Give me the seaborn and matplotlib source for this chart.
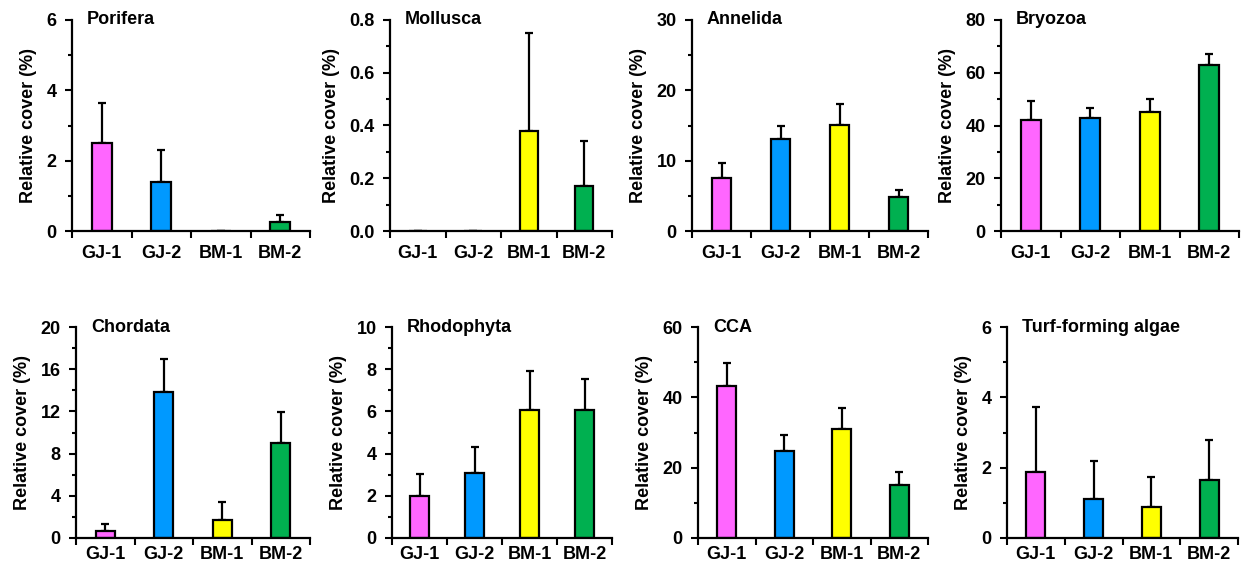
import numpy as np
import pandas as pd
import matplotlib
matplotlib.use("Agg")
import matplotlib.pyplot as plt
from matplotlib.ticker import MultipleLocator, FixedLocator, NullFormatter
import seaborn as sns

sites = ["GJ-1", "GJ-2", "BM-1", "BM-2"]
colors = ["#FF66FF", "#0099FF", "#FFFF00", "#00B050"]

taxa = ["Porifera", "Mollusca", "Annelida", "Bryozoa",
        "Chordata", "Rhodophyta", "CCA", "Turf-forming algae"]

porifera_mean = [2.5, 1.38, 0.0, 0.27]
porifera_err = [1.15, 0.92, 0.0, 0.18]
mollusca_mean = [0.0, 0.0, 0.38, 0.17]
mollusca_err = [0.0, 0.0, 0.37, 0.17]
annelida_mean = [7.5, 13.1, 15.1, 4.8]
annelida_err = [2.2, 1.9, 2.9, 1.0]
bryozoa_mean = [42.2, 42.8, 45.1, 63.1]
bryozoa_err = [7.0, 3.9, 5.0, 4.1]
chordata_mean = [0.7, 13.8, 1.7, 9.0]
chordata_err = [0.6, 3.2, 1.7, 2.9]
rhodophyta_mean = [2.0, 3.1, 6.05, 6.05]
rhodophyta_err = [1.05, 1.2, 1.85, 1.5]
cca_mean = [43.1, 24.7, 30.9, 15.0]
cca_err = [6.7, 4.5, 6.0, 3.8]
turf_mean = [1.88, 1.1, 0.88, 1.65]
turf_err = [1.85, 1.1, 0.85, 1.13]

means = [porifera_mean, mollusca_mean, annelida_mean, bryozoa_mean,
         chordata_mean, rhodophyta_mean, cca_mean, turf_mean]
errs = [porifera_err, mollusca_err, annelida_err, bryozoa_err,
        chordata_err, rhodophyta_err, cca_err, turf_err]

ymax = [6, 0.8, 30, 80, 20, 10, 60, 6]
ymajor = [2, 0.2, 10, 20, 4, 2, 20, 2]
yminor = [1, 0.1, 5, 10, 2, 1, 10, 1]
ydec = [0, 1, 0, 0, 0, 0, 0, 0]

sns.set_theme(style="ticks")
plt.rcParams["font.family"] = ["Liberation Sans", "DejaVu Sans"]
plt.rcParams["font.weight"] = "bold"
plt.rcParams["text.color"] = "black"
plt.rcParams["axes.labelcolor"] = "black"
plt.rcParams["xtick.color"] = "black"
plt.rcParams["ytick.color"] = "black"
plt.rcParams["axes.edgecolor"] = "black"

W, H = 1241, 567
fig = plt.figure(figsize=(W / 100, H / 100), dpi=100)

cols_px = [[(72, 310), (390, 612), (692, 928), (1001, 1239)],
           [(76, 310), (392, 612), (698, 928), (1007, 1238)]]
rows_px = [(20, 231), (327, 538)]
xpad = [10, 6]

FS = 13

for i, taxon in enumerate(taxa):
    r, c = divmod(i, 4)
    x0, x1 = cols_px[r][c]
    top, bot = rows_px[r]
    ax = fig.add_axes([x0 / W, 1 - bot / H, (x1 - x0) / W, (bot - top) / H])
    df = pd.DataFrame({"site": sites, "cover": means[i], "err": errs[i]})
    sns.barplot(data=df, x="site", y="cover", hue="site", palette=colors,
                saturation=1, width=0.33, edgecolor="black", linewidth=1.6,
                legend=False, ax=ax, zorder=2)
    ax.errorbar(np.arange(len(sites)), df["cover"],
                yerr=[np.zeros(len(sites)), df["err"]], fmt="none",
                ecolor="black", elinewidth=1.6, capsize=3, capthick=1.6,
                zorder=1)
    ax.set_xlim(-0.5, 3.5)
    ax.set_ylim(0, ymax[i])
    ax.yaxis.set_major_locator(MultipleLocator(ymajor[i]))
    ax.yaxis.set_minor_locator(MultipleLocator(yminor[i]))
    if ydec[i]:
        ax.yaxis.set_major_formatter(matplotlib.ticker.FormatStrFormatter("%.1f"))
    ax.xaxis.set_minor_locator(FixedLocator([-0.5, 0.5, 1.5, 2.5, 3.5]))
    ax.xaxis.set_minor_formatter(NullFormatter())
    ax.tick_params(axis="x", which="major", length=0, pad=xpad[r], labelsize=FS)
    ax.tick_params(axis="x", which="minor", length=5, width=1.5, direction="out")
    ax.tick_params(axis="y", which="major", length=5, width=1.5, labelsize=FS, pad=6)
    ax.tick_params(axis="y", which="minor", length=3, width=1.5)
    for lab in ax.get_xticklabels() + ax.get_yticklabels():
        lab.set_fontweight("bold")
    for s in ["top", "right"]:
        ax.spines[s].set_visible(False)
    for s in ["left", "bottom"]:
        ax.spines[s].set_linewidth(1.6)
        ax.spines[s].set_color("black")
    ax.set_xlabel("")
    ax.set_ylabel("Relative cover (%)", fontsize=FS, fontweight="bold", labelpad=7)
    ax.annotate(taxon, xy=(0, 1), xycoords="axes fraction", xytext=(15, 0),
                textcoords="offset pixels", va="center", ha="left",
                fontsize=FS, fontweight="bold", annotation_clip=False)

fig.savefig("out.png", dpi=100, facecolor="white")
